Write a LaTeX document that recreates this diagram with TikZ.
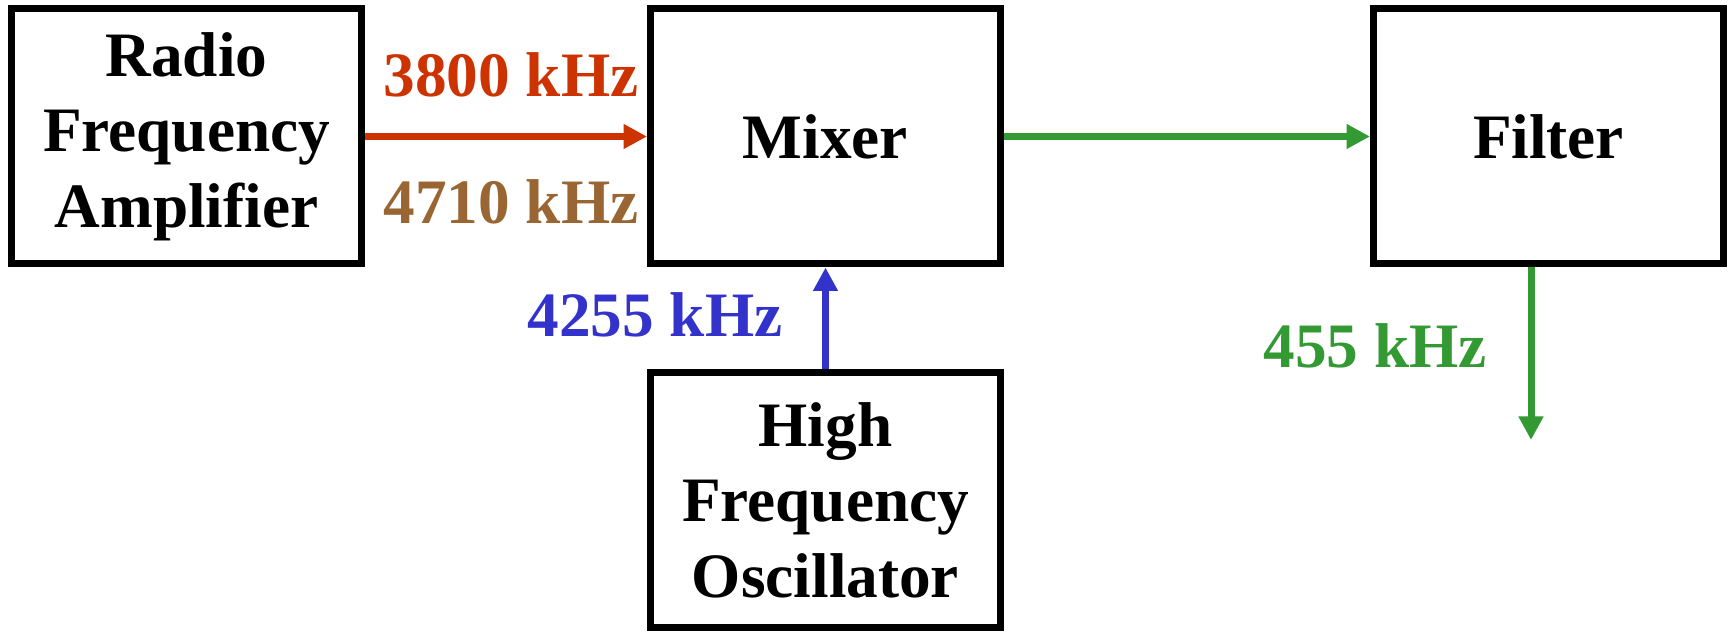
\documentclass[tikz,border=0pt]{standalone}
\usepackage{fontspec}
\setmainfont{Liberation Serif}
\usetikzlibrary{arrows.meta,positioning}

\definecolor{rfred}{RGB}{204,51,0}
\definecolor{imgbrown}{RGB}{153,102,51}
\definecolor{loblue}{RGB}{51,51,204}
\definecolor{ifgreen}{RGB}{51,153,51}

\begin{document}
\begin{tikzpicture}[
  blk/.style={draw, line width=0.14cm, minimum height=5.1cm, minimum width=7.0cm,
              align=center, font=\fontsize{36}{43}\bfseries, inner sep=2pt},
  freq/.style={font=\fontsize{36}{43}\bfseries, anchor=base, inner sep=0pt},
  sig/.style={line width=0.14cm, -{Triangle[length=0.47cm, width=0.47cm]}}
]
  \useasboundingbox (0,0) rectangle (34.58,12.64);

  \node[blk] (rfamp)  at (3.73,9.91)  {Radio\\Frequency\\Amplifier};
  \node[blk] (mixer)  at (16.51,9.91) {Mixer};
  \node[blk] (filter) at (30.97,9.91) {Filter};
  \node[blk] (hfo)    at (16.51,2.64) {High\\Frequency\\Oscillator};

  \node[freq, text=rfred]    (f3800) at (10.22,10.70) {3800 kHz};
  \node[freq, text=imgbrown] (f4710) at (10.22,8.16)  {4710 kHz};
  \node[freq, text=loblue]   (f4255) at (13.10,5.90)  {4255 kHz};
  \node[freq, text=ifgreen]  (f455)  at (27.50,5.28)  {455 kHz};

  \coordinate (ifout) at (30.62,3.84);

  \draw[sig, rfred]   (rfamp.east) -- (mixer.west);
  \draw[sig, loblue]  (hfo.north) -- (mixer.south);
  \draw[sig, ifgreen] (mixer.east) -- (filter.west);
  \draw[sig, ifgreen] (filter.south -| ifout) -- (ifout);
\end{tikzpicture}
\end{document}
